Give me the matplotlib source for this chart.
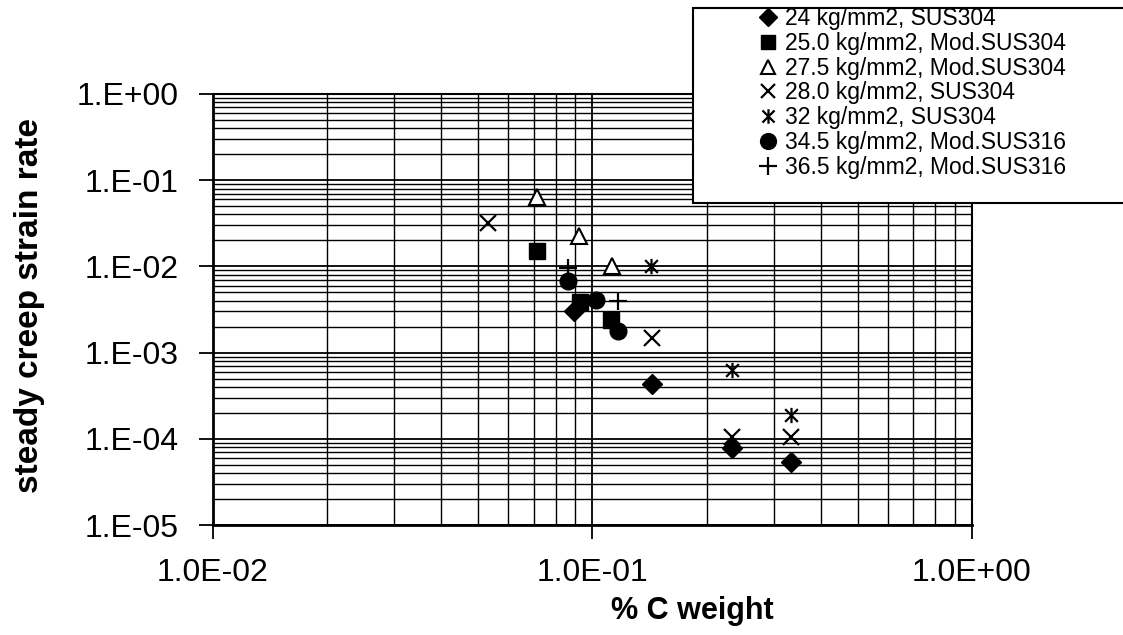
import matplotlib
matplotlib.use("Agg")
import matplotlib.pyplot as plt
import numpy as np
from matplotlib.path import Path
from matplotlib.patches import Rectangle
from matplotlib.ticker import LogLocator, NullFormatter

# ---------------------------------------------------------
# Datos: velocidad de fluencia estacionaria vs % C
# ---------------------------------------------------------
etiquetas = [
    "24 kg/mm2, SUS304",
    "25.0 kg/mm2, Mod.SUS304",
    "27.5 kg/mm2, Mod.SUS304",
    "28.0 kg/mm2, SUS304",
    "32 kg/mm2, SUS304",
    "34.5 kg/mm2, Mod.SUS316",
    "36.5 kg/mm2, Mod.SUS316",
]

c_24 = [0.0894, 0.1435, 0.233, 0.334]
e_24 = [3.0e-3, 4.3e-4, 7.8e-5, 5.4e-5]

c_250 = [0.0714, 0.0927, 0.112]
e_250 = [1.5e-2, 3.9e-3, 2.4e-3]

c_275 = [0.0714, 0.092, 0.1126]
e_275 = [6.4e-2, 2.25e-2, 1.01e-2]

c_280 = [0.053, 0.1435, 0.233, 0.334]
e_280 = [3.2e-2, 1.48e-3, 1.05e-4, 1.05e-4]

c_32 = [0.143, 0.233, 0.334]
e_32 = [1.01e-2, 6.3e-4, 1.9e-4]

c_345 = [0.086, 0.102, 0.117]
e_345 = [6.8e-3, 4.1e-3, 1.8e-3]

c_365 = [0.086, 0.117]
e_365 = [9.5e-3, 4.0e-3]

xticks = [1e-2, 1e-1, 1e0]
xtick_labels = ["1.0E-02", "1.0E-01", "1.0E+00"]
yticks = [1e-5, 1e-4, 1e-3, 1e-2, 1e-1, 1e0]
ytick_labels = ["1.E-05", "1.E-04", "1.E-03", "1.E-02", "1.E-01", "1.E+00"]

# asterisco tipo Excel: aspa + barra vertical
asterisco = Path(
    [(-1, -1), (1, 1), (-1, 1), (1, -1), (0, -1.2), (0, 1.2)],
    [Path.MOVETO, Path.LINETO] * 3,
)

plt.rcParams.update({
    "font.family": ["Liberation Sans", "DejaVu Sans"],
    "axes.linewidth": 1.5,
})

fig = plt.figure(figsize=(11.23, 6.35), dpi=100)
ax = fig.add_axes([0.1897, 0.1732, 0.8655 - 0.1897, 0.852 - 0.1732])

estilos = [
    dict(marker="D", ms=10, mfc="black", mec="black"),
    dict(marker="s", ms=11, mfc="black", mec="black"),
    dict(marker="^", ms=11, mfc="white", mec="black", mew=1.5),
    dict(marker="x", ms=11, mec="black", mew=1.6),
    dict(marker=asterisco, ms=11, mec="black", mew=1.6),
    dict(marker="o", ms=12, mfc="black", mec="black"),
    dict(marker="+", ms=13, mec="black", mew=1.6),
]
series = [(c_24, e_24), (c_250, e_250), (c_275, e_275), (c_280, e_280),
          (c_32, e_32), (c_345, e_345), (c_365, e_365)]

handles = []
for (cx, ey), est, lab in zip(series, estilos, etiquetas):
    h, = ax.plot(cx, ey, ls="none", color="black", label=lab, zorder=3, **est)
    handles.append(h)

ax.set_xscale("log")
ax.set_yscale("log")
ax.set_xlim(1e-2, 1e0)
ax.set_ylim(1e-5, 1e0)

ax.set_xticks(xticks)
ax.set_xticklabels(xtick_labels)
ax.set_yticks(yticks)
ax.set_yticklabels(ytick_labels)
ax.xaxis.set_minor_locator(LogLocator(base=10, subs=np.arange(2, 10)))
ax.yaxis.set_minor_locator(LogLocator(base=10, subs=np.arange(2, 10)))
ax.xaxis.set_minor_formatter(NullFormatter())
ax.yaxis.set_minor_formatter(NullFormatter())

ax.tick_params(which="major", direction="out", length=10, width=1.3,
               labelsize=23, pad=14)
ax.tick_params(axis="y", which="major", pad=15)
ax.tick_params(which="minor", length=0)

ax.grid(True, which="major", color="black", lw=1.3)
ax.grid(True, which="minor", color="black", lw=1.0)
ax.set_axisbelow(True)

for lado in ["left", "bottom"]:
    ax.spines[lado].set_linewidth(2.0)

ax.set_ylabel("steady creep strain rate", fontsize=24, fontweight="bold",
              va="center")
ax.yaxis.set_label_coords(-0.2424, 0.51)
ax.set_xlabel("% C weight", fontsize=22, fontweight="bold", va="center",
              family=["Liberation Sans Narrow", "Liberation Sans"])
ax.xaxis.set_label_coords(0.631, -0.2)

# caja de leyenda (se sale por la derecha de la figura)
caja = Rectangle((693 / 1123, 1 - 203 / 635), 0.45, 195 / 635,
                 transform=fig.transFigure, facecolor="white",
                 edgecolor="black", lw=1.5, zorder=5, clip_on=False)
fig.patches.append(caja)

leg = fig.legend(handles=handles, loc="upper left",
                 bbox_to_anchor=(759 / 1123, 1 - 7 / 635),
                 frameon=False, fontsize=16.5, borderpad=0, borderaxespad=0,
                 labelspacing=0.08, handlelength=0.8, handletextpad=0.35,
                 markerscale=0.95)
leg.set_zorder(6)

fig.savefig("out.png", dpi=100)
